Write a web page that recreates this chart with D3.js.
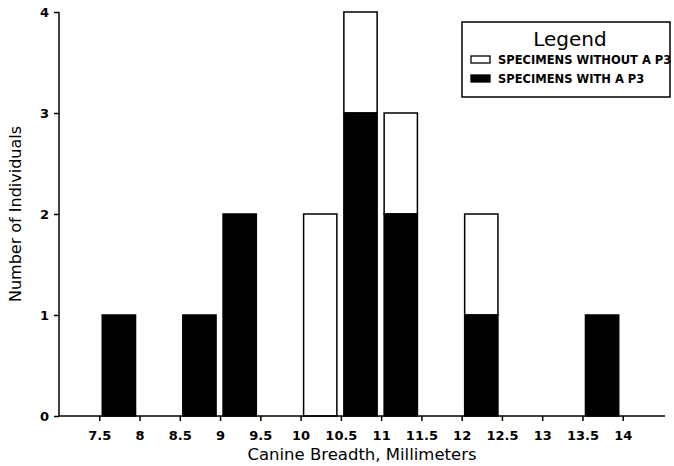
<!DOCTYPE html>
<html>
<head>
<meta charset="utf-8">
<script src="https://cdn.jsdelivr.net/npm/d3@7"></script>
<style>
body { margin: 0; background: #fff; }
text { font-family: "DejaVu Sans", sans-serif; fill: #000; }
</style>
</head>
<body>
<svg id="chart" width="674" height="466"></svg>
<script>
// bin start values (each bin is 0.5 mm wide)
var binStarts = [7.5, 8.5, 9, 10, 10.5, 11, 12, 13.5];
var withP3 =    [1,   1,   2, 0,  3,    2,  1,  1];
var withoutP3 = [0,   0,   0, 2,  1,    1,  1,  0];
var xTicks = [7.5, 8, 8.5, 9, 9.5, 10, 10.5, 11, 11.5, 12, 12.5, 13, 13.5, 14];
var yTicks = [0, 1, 2, 3, 4];

var svg = d3.select("#chart");

var x = d3.scaleLinear().domain([7, 14.5]).range([59, 663]);
var y = d3.scaleLinear().domain([0, 4]).range([416, 12]);

var data = binStarts.map((b, i) => ({start: b, w: withP3[i], wo: withoutP3[i]}));

// bars
var bars = svg.append("g");
data.forEach(function (d) {
    var x0 = x(d.start) + 3, x1 = x(d.start + 0.5) - 4;
    if (d.wo > 0) {
        bars.append("rect")
            .attr("x", x0).attr("width", x1 - x0)
            .attr("y", y(d.w + d.wo)).attr("height", y(d.w) - y(d.w + d.wo))
            .attr("fill", "#fff").attr("stroke", "#000").attr("stroke-width", 1.5);
    }
    if (d.w > 0) {
        bars.append("rect")
            .attr("x", x0).attr("width", x1 - x0)
            .attr("y", y(d.w)).attr("height", y(0) - y(d.w))
            .attr("fill", "#000").attr("stroke", "#000").attr("stroke-width", 1.5);
    }
});

// axes
var xAxis = svg.append("g")
    .attr("transform", "translate(0," + y(0) + ")")
    .call(d3.axisBottom(x).tickValues(xTicks).tickSize(5).tickPadding(10).tickFormat(d3.format("")));
xAxis.select(".domain").attr("d", "M" + x(7) + ",0H" + 665).attr("stroke-width", 1.5);
xAxis.selectAll("line").attr("stroke-width", 1.5);
xAxis.selectAll("text").style("font-size", "13px").style("font-weight", "bold");

var yAxis = svg.append("g")
    .attr("transform", "translate(" + x(7) + ",0)")
    .call(d3.axisLeft(y).tickValues(yTicks).tickSize(5).tickPadding(5).tickFormat(d3.format("d")));
yAxis.select(".domain").attr("d", "M0," + y(0) + "V" + y(4)).attr("stroke-width", 1.5);
yAxis.selectAll("line").attr("stroke-width", 1.5);
yAxis.selectAll("text").style("font-size", "13px").style("font-weight", "bold");

// axis titles
svg.append("text")
    .attr("x", 362).attr("y", 460)
    .attr("text-anchor", "middle")
    .style("font-size", "16.5px")
    .text("Canine Breadth, Millimeters");

svg.append("text")
    .attr("transform", "translate(21,214) rotate(-90)")
    .attr("text-anchor", "middle")
    .style("font-size", "16px")
    .text("Number of Individuals");

// legend
var lg = svg.append("g");
lg.append("rect")
    .attr("x", 462).attr("y", 22).attr("width", 208).attr("height", 75)
    .attr("fill", "#fff").attr("stroke", "#000").attr("stroke-width", 1.5);
lg.append("text")
    .attr("x", 570).attr("y", 46)
    .attr("text-anchor", "middle")
    .style("font-size", "20px")
    .text("Legend");
var items = [["#fff", "SPECIMENS WITHOUT A P3", 56], ["#000", "SPECIMENS WITH A P3", 75]];
items.forEach(function (it) {
    lg.append("rect")
        .attr("x", 471).attr("y", it[2]).attr("width", 19).attr("height", 7)
        .attr("fill", it[0]).attr("stroke", "#000").attr("stroke-width", 1.3);
    lg.append("text")
        .attr("x", 498).attr("y", it[2] + 8)
        .style("font-size", "11.5px").style("font-weight", "bold")
        .text(it[1]);
});
</script>
</body>
</html>
